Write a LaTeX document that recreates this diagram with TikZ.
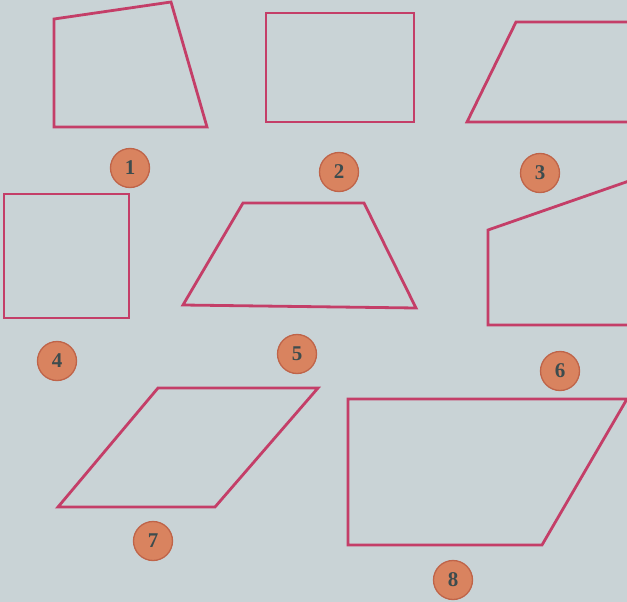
\documentclass[tikz,border=0pt]{standalone}
\usepackage{fontspec}
\setmainfont{Liberation Serif}
\usetikzlibrary{shapes.geometric}
\definecolor{bgc}{HTML}{C9D3D6}
\definecolor{edgec}{HTML}{C43E68}
\definecolor{badgefill}{HTML}{D9835F}
\definecolor{badgering}{HTML}{BF6449}
\definecolor{digitc}{HTML}{3D4C4E}
\tikzset{
  shapeline/.style={draw=edgec, line width=2.8pt, line join=miter},
  badge/.style={circle, fill=badgefill, draw=badgering, line width=1.3pt,
    minimum size=39pt, inner sep=0pt, font=\bfseries\fontsize{21}{21}\selectfont, text=digitc},
}
\begin{document}
\begin{tikzpicture}[x=1pt,y=-1pt]
\fill[bgc] (0,0) rectangle (627,602);
\useasboundingbox (0,0) rectangle (627,602);
% shapes
\draw[shapeline] (54,19) -- (171,2) -- (207,127) -- (54,127) -- cycle;
\draw[shapeline] (266,13) rectangle (414,122);
\draw[shapeline] (629,22) -- (516,22) -- (467,122) -- (629,122);
\draw[shapeline] (4,194) rectangle (129,318);
\draw[shapeline] (243,203) -- (364,203) -- (416,308) -- (183,305) -- cycle;
\draw[shapeline] (629,181) -- (488,230) -- (488,325) -- (629,325);
\draw[shapeline] (158,388) -- (318,388) -- (215,507) -- (58,507) -- cycle;
\draw[shapeline] (629,399) -- (348,399) -- (348,545) -- (542,545) -- (627,399);
% badges
\node[badge] (b1) at (130,168) {1};
\node[badge] (b2) at (339,172) {2};
\node[badge] (b3) at (540,173) {3};
\node[badge] (b4) at (57,361) {4};
\node[badge] (b5) at (297,354) {5};
\node[badge] (b6) at (560,371) {6};
\node[badge] (b7) at (153,541) {7};
\node[badge] (b8) at (453,580) {8};
\end{tikzpicture}
\end{document}
